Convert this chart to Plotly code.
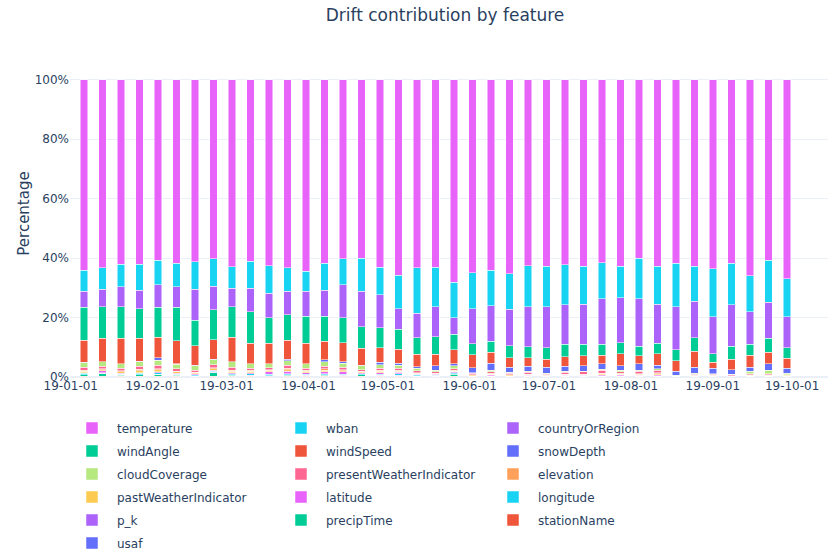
import plotly.graph_objects as go

weeks = ["2019-01-06", "2019-01-13", "2019-01-20", "2019-01-27", "2019-02-03", "2019-02-10",
         "2019-02-17", "2019-02-24", "2019-03-03", "2019-03-10", "2019-03-17", "2019-03-24",
         "2019-03-31", "2019-04-07", "2019-04-14", "2019-04-21", "2019-04-28", "2019-05-05",
         "2019-05-12", "2019-05-19", "2019-05-26", "2019-06-02", "2019-06-09", "2019-06-16",
         "2019-06-23", "2019-06-30", "2019-07-07", "2019-07-14", "2019-07-21", "2019-07-28",
         "2019-08-04", "2019-08-11", "2019-08-18", "2019-08-25", "2019-09-01", "2019-09-08",
         "2019-09-15", "2019-09-22", "2019-09-29"]

temperature = [64.1, 63.3, 62.1, 62.1, 60.7, 61.7, 61.3, 60.2, 62.9, 61.1, 62.6, 63.3, 64.4, 61.7, 60.2,
               60.1, 63.0, 65.7, 63.3, 63.0, 68.2, 64.9, 64.1, 65.2, 62.6, 62.8, 62.3, 62.8, 61.5, 62.8,
               60.1, 62.8, 61.7, 62.8, 63.5, 61.7, 66.0, 60.7, 66.9]
wban = [7.1, 7.2, 7.6, 8.7, 8.2, 8.0, 9.2, 9.2, 7.2, 9.0, 9.2, 7.9, 6.8, 9.1, 8.7,
        11.1, 9.3, 11.3, 15.3, 13.4, 11.8, 12.1, 12.0, 12.0, 13.8, 13.5, 13.4, 12.7, 12.1, 10.5,
        13.5, 12.7, 14.7, 11.8, 16.3, 14.0, 12.0, 14.2, 12.9]
countryOrRegion = [5.4, 5.8, 6.6, 6.2, 7.7, 6.9, 10.4, 8.0, 6.2, 7.9, 8.2, 7.9, 8.4, 8.8, 11.1,
                   11.9, 11.2, 6.9, 8.2, 10.0, 5.6, 11.7, 11.8, 12.3, 13.4, 13.9, 13.3, 13.5, 15.4, 15.1,
                   16.1, 13.2, 14.5, 12.2, 12.3, 14.0, 10.9, 12.1, 10.4]
windAngle = [11.0, 10.7, 10.7, 10.0, 10.1, 11.2, 8.6, 10.1, 10.4, 10.6, 8.6, 8.5, 9.0, 8.4, 8.4,
             7.3, 6.7, 6.7, 5.6, 6.0, 5.3, 3.7, 3.8, 4.1, 3.8, 3.8, 4.2, 3.8, 3.6, 3.7,
             3.1, 3.4, 3.6, 4.5, 3.0, 4.3, 3.7, 4.7, 3.5]
windSpeed = [7.5, 7.8, 8.5, 7.7, 6.9, 7.8, 6.6, 6.6, 8.1, 6.9, 6.9, 6.4, 6.9, 6.2, 6.4,
             5.6, 4.9, 4.8, 4.1, 3.8, 4.7, 4.4, 3.6, 3.2, 2.8, 2.8, 3.2, 3.4, 3.0, 4.1,
             2.8, 3.9, 3.6, 5.5, 2.0, 3.5, 4.2, 3.9, 3.4]
snowDepth = [0.1, 0.1, 0.1, 0.1, 0.7, 0.1, 0.1, 0.1, 0.1, 0.1, 0.1, 0.6, 0.1, 0.6, 0.6,
             0.2, 0.8, 0.7, 0.5, 1.5, 0.6, 1.6, 2.5, 1.6, 1.6, 2.0, 1.7, 1.8, 1.8, 1.6,
             2.2, 1.3, 1.3, 1.9, 1.8, 1.6, 1.3, 2.2, 1.7]
cloudCoverage = [1.6, 1.5, 1.4, 1.5, 1.7, 1.5, 1.6, 1.7, 1.8, 1.4, 1.3, 1.5, 1.5, 1.6, 1.4,
                 1.3, 1.2, 1.0, 0.9, 0.6, 1.0, 0.3, 0.4, 0.3, 0.4, 0.2, 0.3, 0.3, 0.4, 0.4,
                 0.3, 0.5, 0.1, 0.3, 0.2, 0.2, 0.8, 1.1, 0.4]
presentWeatherIndicator = [0.9, 0.8, 0.9, 1.1, 1.2, 0.9, 0.6, 1.0, 1.1, 0.8, 0.6, 1.0, 0.7, 0.9, 0.8,
                           0.6, 0.7, 0.6, 0.6, 0.5, 0.6, 0.4, 0.6, 0.5, 0.6, 0.4, 0.6, 0.7, 0.9, 0.6,
                           0.8, 0.8, 0.2, 0.4, 0.3, 0.2, 0.4, 0.3, 0.1]
elevation = [0.3, 0.3, 0.3, 0.5, 0.4, 0.2, 0.2, 0.4, 0.3, 0.3, 0.3, 0.5, 0.3, 0.4, 0.3,
             0.2, 0.3, 0.3, 0.2, 0.1, 0.2, 0.1, 0.2, 0.1, 0.1, 0.1, 0.2, 0.2, 0.2, 0.2,
             0.2, 0.3, 0.0, 0.1, 0.1, 0.1, 0.1, 0.2, 0.1]
pastWeatherIndicator = [0.5, 0.4, 0.6, 0.6, 0.6, 0.4, 0.3, 0.5, 0.5, 0.5, 0.4, 0.4, 0.5, 0.6, 0.4,
                        0.3, 0.4, 0.4, 0.3, 0.2, 0.3, 0.2, 0.2, 0.2, 0.3, 0.1, 0.2, 0.2, 0.3, 0.3,
                        0.3, 0.3, 0.1, 0.1, 0.1, 0.1, 0.2, 0.2, 0.3]
latitude = [0.3, 0.6, 0.2, 0.3, 0.4, 0.3, 0.3, 0.3, 0.3, 0.3, 0.9, 0.9, 0.4, 0.6, 0.8,
            0.3, 0.6, 0.5, 0.3, 0.3, 0.3, 0.1, 0.4, 0.2, 0.2, 0.1, 0.2, 0.2, 0.3, 0.3,
            0.2, 0.3, 0.0, 0.1, 0.1, 0.0, 0.1, 0.1, 0.0]
longitude = [0.4, 0.3, 0.3, 0.4, 0.4, 0.3, 0.4, 0.3, 0.4, 0.5, 0.4, 0.4, 0.4, 0.4, 0.3,
             0.3, 0.3, 0.5, 0.3, 0.2, 0.3, 0.2, 0.2, 0.1, 0.2, 0.1, 0.2, 0.2, 0.3, 0.2,
             0.2, 0.3, 0.0, 0.1, 0.1, 0.1, 0.1, 0.1, 0.1]
p_k = [0.1, 0.1, 0.1, 0.1, 0.1, 0.1, 0.1, 0.1, 0.1, 0.1, 0.1, 0.1, 0.1, 0.1, 0.1,
       0.1, 0.1, 0.1, 0.1, 0.1, 0.1, 0.0, 0.0, 0.0, 0.0, 0.0, 0.0, 0.0, 0.0, 0.0,
       0.0, 0.0, 0.0, 0.0, 0.0, 0.0, 0.0, 0.0, 0.0]
precipTime = [0.5, 0.9, 0.4, 0.5, 0.7, 0.4, 0.1, 1.3, 0.4, 0.3, 0.2, 0.4, 0.3, 0.4, 0.3,
              0.5, 0.3, 0.3, 0.1, 0.1, 0.8, 0.0, 0.0, 0.0, 0.0, 0.0, 0.0, 0.0, 0.0, 0.0,
              0.0, 0.0, 0.0, 0.0, 0.0, 0.0, 0.0, 0.0, 0.0]
stationName = [0.1, 0.1, 0.1, 0.1, 0.1, 0.1, 0.1, 0.1, 0.1, 0.1, 0.1, 0.1, 0.1, 0.1, 0.1,
               0.1, 0.1, 0.1, 0.1, 0.1, 0.1, 0.1, 0.1, 0.1, 0.1, 0.1, 0.1, 0.1, 0.1, 0.1,
               0.1, 0.1, 0.1, 0.1, 0.1, 0.1, 0.1, 0.1, 0.1]
usaf = [0.1, 0.1, 0.1, 0.1, 0.1, 0.1, 0.1, 0.1, 0.1, 0.1, 0.1, 0.1, 0.1, 0.1, 0.1,
        0.1, 0.1, 0.1, 0.1, 0.1, 0.1, 0.1, 0.1, 0.1, 0.1, 0.1, 0.1, 0.1, 0.1, 0.1,
        0.1, 0.1, 0.1, 0.1, 0.1, 0.1, 0.1, 0.1, 0.1]

y_ticks = [0, 20, 40, 60, 80, 100]
y_tick_labels = ["0%", "20%", "40%", "60%", "80%", "100%"]

# (name, values, color, legend column, rank in column) - stacked bottom to top
series = [
    ("usaf", usaf, "#636EFA", "legend", 6),
    ("stationName", stationName, "#EF553B", "legend3", 5),
    ("precipTime", precipTime, "#00CC96", "legend2", 5),
    ("p_k", p_k, "#AB63FA", "legend", 5),
    ("longitude", longitude, "#19D3F3", "legend3", 4),
    ("latitude", latitude, "#E763FA", "legend2", 4),
    ("pastWeatherIndicator", pastWeatherIndicator, "#FECB52", "legend", 4),
    ("elevation", elevation, "#FFA15A", "legend3", 3),
    ("presentWeatherIndicator", presentWeatherIndicator, "#FF6692", "legend2", 3),
    ("cloudCoverage", cloudCoverage, "#B6E880", "legend", 3),
    ("snowDepth", snowDepth, "#636EFA", "legend3", 2),
    ("windSpeed", windSpeed, "#EF553B", "legend2", 2),
    ("windAngle", windAngle, "#00CC96", "legend", 2),
    ("countryOrRegion", countryOrRegion, "#AB63FA", "legend3", 1),
    ("wban", wban, "#19D3F3", "legend2", 1),
    ("temperature", temperature, "#E763FA", "legend", 1),
]

FONT = "DejaVu Sans"
TXT = "#2a3f5f"
W, H = 833, 552

fig = go.Figure()
for name, vals, color, leg, rank in series:
    fig.add_trace(go.Bar(
        x=weeks, y=vals, name=name,
        marker=dict(color=color, line=dict(color="white", width=0.5)),
        legend=leg, legendgroup=name, legendrank=rank,
    ))

# plot area: x 70..828, y 50..377 (range 0..110, so 100% sits at y=80)
PL, PR, PT, PB = 70, 828, 50, 377
PW, PH = PR - PL, PB - PT
LEG_TOP = 413.5          # legend top in pixels (container)

leg_common = dict(
    orientation="v", traceorder="grouped", tracegroupgap=4, itemwidth=40,
    font=dict(family=FONT, size=12, color=TXT), bgcolor="rgba(0,0,0,0)",
    xref="paper", yref="container", xanchor="left", yanchor="top",
    y=1 - LEG_TOP / H, maxheight=400,
)

fig.update_layout(
    template="plotly_white",
    width=W, height=H,
    barmode="stack", barnorm="percent", bargap=0.6,
    font=dict(family=FONT, size=12, color=TXT),
    title=dict(text="Drift contribution by feature", font=dict(family=FONT, size=17, color=TXT),
               x=(445 - PL) / PW, xanchor="center", xref="paper",
               y=1 - 15 / H, yanchor="middle"),
    margin=dict(l=PL, r=W - PR, t=PT, b=H - PB),
    xaxis=dict(type="date", range=["2018-12-31 17:00", "2019-10-14 14:00"],
               tickformat="%y-%m-%d", dtick="M1", tick0="2019-01-01",
               showgrid=False, ticks=""),
    yaxis=dict(title=dict(text="Percentage", standoff=1, font=dict(size=15)),
               range=[0, 110], tickvals=y_ticks,
               ticktext=y_tick_labels, gridcolor="#EBF0F8", zerolinecolor="#EBF0F8"),
    legend=dict(leg_common, x=(67 - PL) / PW),
    legend2=dict(leg_common, x=(276 - PL) / PW),
    legend3=dict(leg_common, x=(488 - PL) / PW),
    showlegend=True,
)

fig.write_html("out.html", config={"displayModeBar": False},
               post_script="document.body.style.margin='0px';")
